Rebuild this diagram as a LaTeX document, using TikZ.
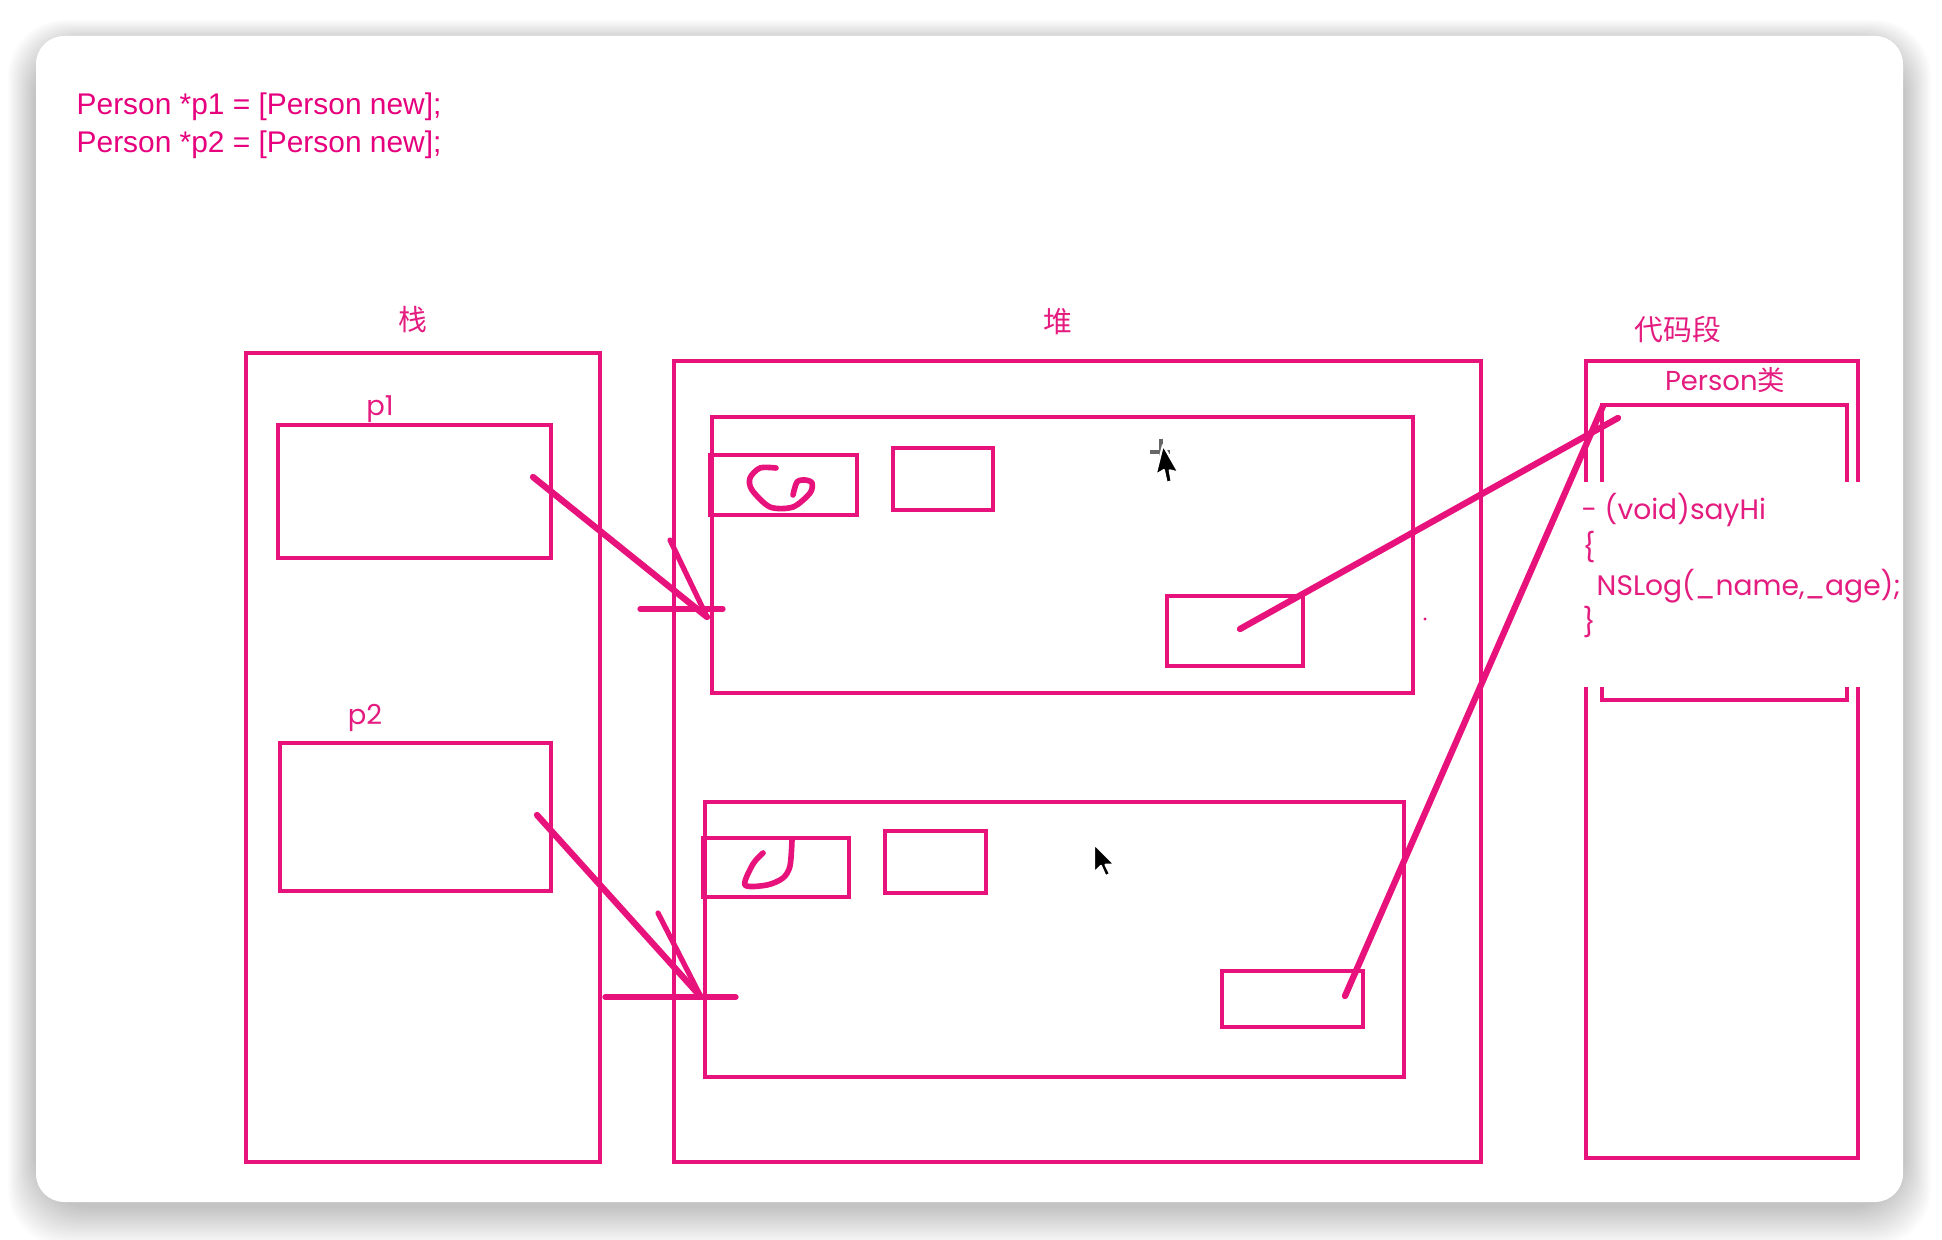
\documentclass[tikz,border=0pt]{standalone}
\usepackage{fontspec}
\usepackage{tikz}
\usetikzlibrary{positioning}
\newfontfamily\declfont{Liberation Sans}
\newfontfamily\gothfont{Poppins}
\newfontfamily\cjkfont{Noto Sans CJK SC}
\definecolor{memline}{HTML}{E8127C}
\definecolor{memtext}{HTML}{E41C80}
\definecolor{declpink}{HTML}{E6007E}
\tikzset{
  region/.style={
    rectangle, draw=memline, line width=1.1pt,
    inner sep=0pt
  },
  cellbox/.style 2 args={
    region, minimum width=#1cm, minimum height=#2cm
  },
  regionlabel/.style={
    font=\cjkfont\fontsize{8.2}{10}\selectfont, text=memtext,
    inner sep=0pt
  },
  varlabel/.style={
    font=\gothfont\fontsize{7.8}{9}\selectfont, text=memtext,
    anchor=base, inner sep=0pt
  },
  codeline/.style={
    font=\gothfont\fontsize{8.0}{10}\selectfont, text=memtext,
    anchor=base west, inner sep=0pt
  },
  declline/.style={
    font=\declfont\fontsize{8.5}{10}\selectfont, text=declpink,
    anchor=base west, inner sep=0pt
  },
  refline/.style={
    draw=memline, line width=1.8pt, line cap=round
  },
  headline/.style={
    draw=memline, line width=1.5pt, line cap=round
  },
  scribble/.style={
    draw=memline, line width=1.6pt, line cap=round, line join=round
  },
  mousearrow/.style={
    fill=black, draw=white, line width=0.6pt, line join=round
  },
}

\begin{document}
\begin{tikzpicture}[x=0.01cm, y=-0.01cm]
  \useasboundingbox (0,0) rectangle (1942,1240);
  % window with its shadow
  \fill[white] (0,0) rectangle (1942,1240);
  \foreach \s in {1,...,20}
    \fill[black, opacity=0.011, rounded corners=16]
      (36-1.4*\s, 44-1.2*\s) rectangle (1903+1.4*\s, 1206+2.0*\s);
  \fill[white, rounded corners=8] (36,36) rectangle (1903,1202);

  \begin{scope}
  \clip (36,36) rectangle (1900,1202);

  \node[declline] (decl1) at (76,115) {Person *p1 = [Person new];};
  \node[declline] (decl2) at (76,153) {Person *p2 = [Person new];};

  % stack
  \node[cellbox={3.54}{8.09}] (stack) at (423,757.5) {};
  \node[regionlabel] (stacklbl) at (413,320) {栈};
  \node[cellbox={2.73}{1.33}] (p1) at (414.5,491.5) {};
  \node[varlabel] (p1lbl) at (380,416) {p1};
  \node[cellbox={2.71}{1.48}] (p2) at (415.5,817) {};
  \node[varlabel] (p2lbl) at (365,725) {p2};

  % heap
  \node[cellbox={8.07}{8.01}] (heap) at (1077.5,761.5) {};
  \node[regionlabel] (heaplbl) at (1058,322) {堆};
  \node[cellbox={7.01}{2.76}] (obj1) at (1062.5,555) {};
  \node[cellbox={1.47}{0.60}] (obj1a) at (783.5,485) {};
  \node[cellbox={1.00}{0.62}] (obj1b) at (943,479) {};
  \node[cellbox={1.36}{0.70}] (obj1isa) at (1235,631) {};
  \node[cellbox={6.99}{2.75}] (obj2) at (1054.5,939.5) {};
  \node[cellbox={1.46}{0.59}] (obj2a) at (776,867.5) {};
  \node[cellbox={1.01}{0.62}] (obj2b) at (935.5,862) {};
  \node[cellbox={1.41}{0.56}] (obj2isa) at (1292.5,999) {};

  % code segment
  \node[cellbox={2.72}{7.97}] (codeseg) at (1722,759.5) {};
  \node[regionlabel] (codelbl) at (1678,330) {代码段};
  \node[varlabel, anchor=center] (classlbl) at (1725,380)
    {Person{\cjkfont 类}};
  \node[cellbox={2.45}{2.95}] (classbox) at (1724.5,552.5) {};
  \fill[white] (1576,482) rectangle (1900,687);
  \node[codeline] (m1) at (1581,520) {- (void)sayHi};
  \node[codeline] (m2) at (1582,558) {\{};
  \node[codeline] (m3) at (1596,596) {NSLog(\_name,\_age);};
  \node[codeline] (m4) at (1582,633) {\}};

  % handwritten values
  \draw[scribble] plot[smooth] coordinates {(776,468) (760,468) (750,478)
    (752,490) (770,507) (793,507) (810,493) (812,483) (805,480) (797,482)
    (793,495)};
  \draw[scribble] plot[smooth] coordinates {(763,853) (753,864) (745,885)
    (767,885) (783,878) (790,866) (792,840)};

  % pointers
  \coordinate (p1ref) at (533,477);
  \coordinate (o1hit) at (707,617);
  \coordinate (o1bar) at (640,609);
  \draw[refline] (p1ref) -- (o1hit);
  \draw[headline] (o1hit) -- ++(-37,-77);
  \draw[headline] (o1bar) -- ++(83,0);

  \coordinate (p2ref) at (537,815);
  \coordinate (o2hit) at (701,997);
  \coordinate (o2bar) at (605,997);
  \draw[refline] (p2ref) -- (o2hit);
  \draw[headline] (o2hit) -- ++(-43,-84);
  \draw[headline] (o2bar) -- ++(131,0);

  \coordinate (isa1ref) at (1240,629);
  \coordinate (isa2ref) at (1345,996);
  \coordinate (cls1hit) at (1618,418);
  \coordinate (cls2hit) at (1603,406);
  \draw[refline] (isa1ref) -- (cls1hit);
  \draw[refline] (isa2ref) -- (cls2hit);

  \fill[memline] (1425,619) circle (1.6);

  % mouse pointers
  \draw[black!60, line width=1pt] (1150,452) -- (1170,452) (1161,439) -- (1161,465);
  \begin{scope}[shift={(1163,445)}, rotate=-14, scale=1.15]
    \filldraw[mousearrow] (0,0) -- (0,27) -- (6,21) -- (11,31) -- (15,29)
      -- (11,20) -- (19,20) -- cycle;
  \end{scope}
  \begin{scope}[shift={(1094,844)}, scale=1.15]
    \filldraw[mousearrow] (0,0) -- (0,25) -- (6,19) -- (10,28) -- (14,26)
      -- (10,18) -- (18,18) -- cycle;
  \end{scope}
  \end{scope}
\end{tikzpicture}
\end{document}
